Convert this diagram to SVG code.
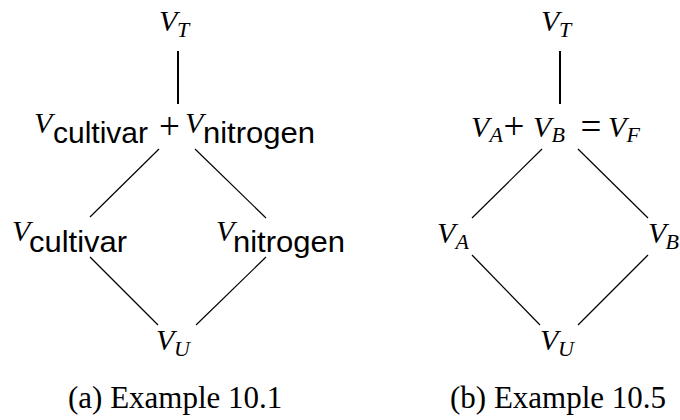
<svg xmlns="http://www.w3.org/2000/svg" width="680" height="420" viewBox="0 0 680 420">
<style>
.m{font-family:"Liberation Serif","Times New Roman",serif;font-style:italic;font-size:30px;fill:#000}
.s{font-family:"Liberation Serif","Times New Roman",serif;font-style:italic;font-size:22px;fill:#000}
.o{font-family:"Liberation Serif","Times New Roman",serif;font-size:37px;fill:#000}
.t{font-family:"Liberation Sans",Arial,sans-serif;font-size:30px;fill:#000}
.c{font-family:"Liberation Serif","Times New Roman",serif;font-size:31px;fill:#000}
.v{stroke:#000;stroke-width:2;fill:none}
.d{stroke:#000;stroke-width:1.2;fill:none}
</style>
<rect width="680" height="420" fill="#fff"/>
<g id="connectors">
<line class="v" x1="178" y1="51" x2="178" y2="104"/>
<line class="d" x1="159" y1="149" x2="90" y2="217"/>
<line class="d" x1="195" y1="149" x2="266" y2="218"/>
<line class="d" x1="90" y1="257" x2="158" y2="325"/>
<line class="d" x1="266" y1="257" x2="196" y2="325"/>
<line class="v" x1="560" y1="51" x2="560" y2="104"/>
<line class="d" x1="542" y1="149" x2="472" y2="218"/>
<line class="d" x1="578" y1="149" x2="648" y2="218"/>
<line class="d" x1="472" y1="255" x2="540" y2="325"/>
<line class="d" x1="648" y1="255" x2="578" y2="325"/>
</g>
<g id="a-VT"><text class="m" x="159" y="31">V</text><text class="s" x="177" y="37">T</text></g>
<g id="a-sum"><text class="m" x="34" y="133">V</text><text class="t" x="53" y="143" textLength="95" lengthAdjust="spacingAndGlyphs">cultivar</text><text class="o" x="169.5" y="139" text-anchor="middle">+</text><text class="m" x="185" y="133">V</text><text class="t" x="203" y="143" textLength="112" lengthAdjust="spacingAndGlyphs">nitrogen</text></g>
<g id="a-Vcultivar"><text class="m" x="12" y="241">V</text><text class="t" x="29" y="252" textLength="98" lengthAdjust="spacingAndGlyphs">cultivar</text></g>
<g id="a-Vnitrogen"><text class="m" x="216" y="241">V</text><text class="t" x="233" y="252" textLength="112" lengthAdjust="spacingAndGlyphs">nitrogen</text></g>
<g id="a-VU"><text class="m" x="156" y="350">V</text><text class="s" x="174" y="356">U</text></g>
<g id="a-caption"><text class="c" x="68" y="408">(a) Example 10.1</text></g>
<g id="b-VT"><text class="m" x="541" y="31">V</text><text class="s" x="559" y="37">T</text></g>
<g id="b-sum"><text class="m" x="471" y="137">V</text><text class="s" x="489.5" y="142">A</text><text class="o" x="514" y="139" text-anchor="middle">+</text><text class="m" x="533" y="137">V</text><text class="s" x="551.5" y="142">B</text><text class="o" x="591" y="139" text-anchor="middle">=</text><text class="m" x="608" y="137">V</text><text class="s" x="626.5" y="142">F</text></g>
<g id="b-VA"><text class="m" x="437" y="243">V</text><text class="s" x="455.5" y="249">A</text></g>
<g id="b-VB"><text class="m" x="648" y="243">V</text><text class="s" x="665.5" y="249">B</text></g>
<g id="b-VU"><text class="m" x="540" y="350">V</text><text class="s" x="558" y="356">U</text></g>
<g id="b-caption"><text class="c" x="450" y="408">(b) Example 10.5</text></g>
</svg>
